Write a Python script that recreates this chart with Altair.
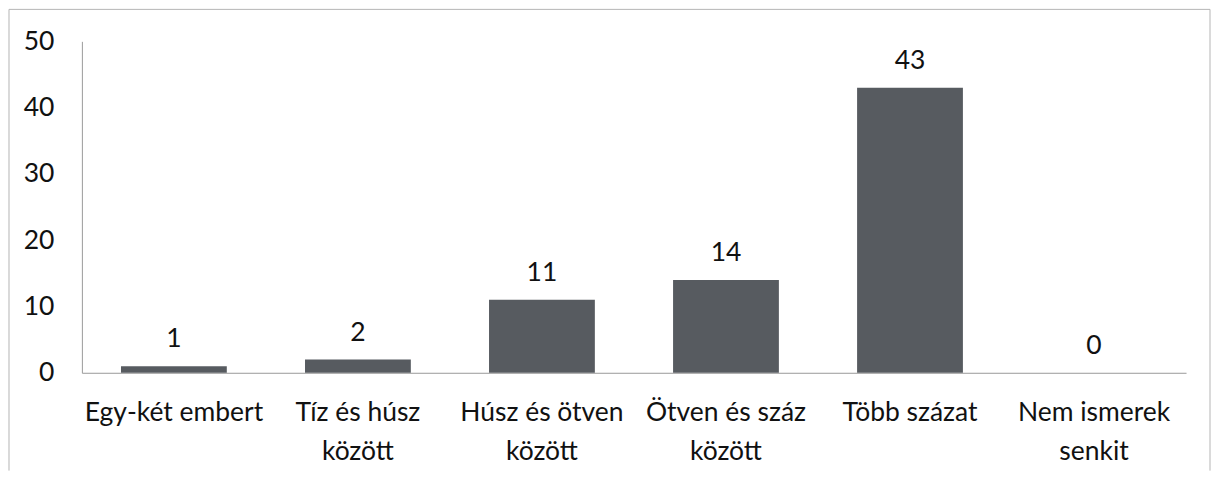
import altair as alt
import pandas as pd

categories = ["Egy-két embert", "Tíz és húsz\nközött", "Húsz és ötven\nközött",
              "Ötven és száz\nközött", "Több százat", "Nem ismerek\nsenkit"]
values = [1, 2, 11, 14, 43, 0]
y_ticks = [0, 10, 20, 30, 40, 50]

FONT = "Lato"
FS = 26.5

df = pd.DataFrame({"cat": categories, "val": values})

x_enc = alt.X("cat:N", sort=categories, title=None,
              scale=alt.Scale(paddingInner=0.425, paddingOuter=0.2125),
              axis=alt.Axis(labelAngle=0, ticks=False, domainColor="#9a9a9a",
                            labelExpr="split(datum.label, '\\n')",
                            labelFont=FONT, labelFontSize=FS, labelColor="#111111",
                            labelPadding=27, labelLineHeight=39, labelBaseline="top"))
y_enc = alt.Y("val:Q", title=None,
              scale=alt.Scale(domain=[0, 50], nice=False),
              axis=alt.Axis(values=y_ticks, ticks=False, grid=False, domainColor="#9a9a9a",
                            labelFont=FONT, labelFontSize=FS, labelColor="#111111",
                            labelPadding=28))

bars = alt.Chart(df).mark_bar(color="#575b60").encode(x=x_enc, y=y_enc)
text = alt.Chart(df).mark_text(dy=-27, font=FONT, fontSize=FS, color="#111111").encode(
    x=alt.X("cat:N", sort=categories), y="val:Q", text="val:Q")

frame_df = pd.DataFrame({"a": [0]})
frame_col = "#b5b5b5"
top = alt.Chart(frame_df).mark_rule(color=frame_col, strokeWidth=1).encode(
    x=alt.value(-73), x2=alt.value(1130), y=alt.value(-32))
left = alt.Chart(frame_df).mark_rule(color=frame_col, strokeWidth=1).encode(
    x=alt.value(-73), y=alt.value(-32), y2=alt.value(430))
right = alt.Chart(frame_df).mark_rule(color=frame_col, strokeWidth=1).encode(
    x=alt.value(1130), y=alt.value(-32), y2=alt.value(430))

chart = alt.layer(bars, text, top, left, right).properties(
    width=1106, height=332, padding=0, background="white"
).configure_view(stroke=None)

chart.save("out.html", embed_options={"renderer": "svg", "actions": False})
